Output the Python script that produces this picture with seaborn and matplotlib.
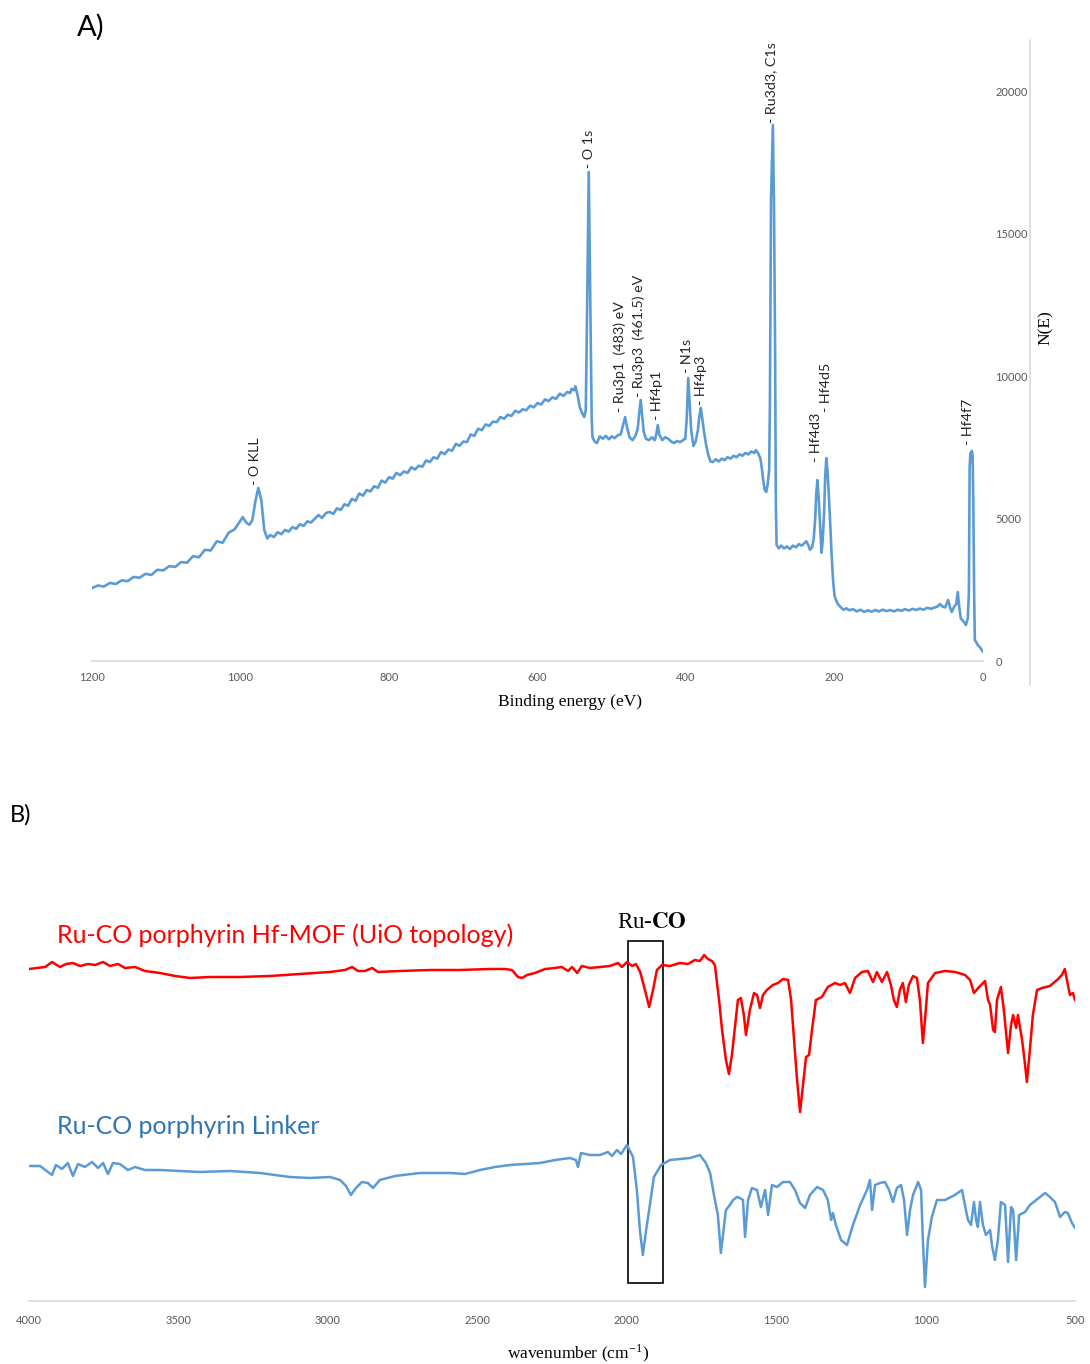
import matplotlib
matplotlib.use("Agg")
import matplotlib.pyplot as plt
from matplotlib.patches import Rectangle
import seaborn as sns
import pandas as pd

# ---------------- Panel A: XPS survey (binding energy eV, counts N(E)) ----------------
xps_be = [1200, 1192, 1184, 1176, 1168, 1160, 1152, 1144, 1136, 1128, 1120, 1112, 1104, 1096, 1088,
          1080, 1072, 1064, 1056, 1048, 1040, 1032, 1024, 1016, 1008, 1002, 997, 992, 988, 984, 980,
          976, 972, 968, 964, 960, 955, 950, 945, 940, 935, 930, 925, 920, 915, 910, 905, 900, 895,
          890, 885, 880, 875, 870, 865, 860, 855, 850, 845, 840, 835, 830, 825, 820, 815, 810, 805,
          800, 795, 790, 785, 780, 775, 770, 765, 760, 755, 750, 745, 740, 735, 730, 725, 720, 715,
          710, 705, 700, 695, 690, 685, 680, 675, 670, 665, 660, 655, 650, 645, 640, 635, 630, 625,
          620, 615, 610, 605, 600, 595, 590, 585, 580, 575, 570, 565, 560, 556, 554, 551, 549, 546,
          543, 540, 537, 535, 533, 531, 529, 527, 526, 523, 520, 516, 512, 508, 504, 500, 496, 492,
          488, 485, 482, 479, 476, 472, 468, 465, 463, 461, 459, 457, 454, 450, 446, 442, 440, 438,
          436, 432, 428, 424, 420, 416, 412, 408, 404, 401, 399, 397, 395, 393, 390, 387, 384, 382,
          380, 378, 376, 373, 370, 367, 364, 360, 356, 352, 348, 344, 340, 336, 332, 328, 324, 320,
          316, 312, 308, 306, 303, 300, 298, 296, 294, 292, 290, 288, 287, 285.5, 283, 281.5, 280,
          279, 278, 275, 272, 268, 264, 260, 256, 252, 248, 244, 240, 238, 235, 233, 230, 228, 226,
          224.5, 223, 221, 219, 217.5, 216, 214, 212.5, 211, 209.5, 208, 206, 204, 202, 200, 198,
          195, 192, 188, 184, 180, 175, 170, 165, 160, 155, 150, 145, 140, 135, 130, 125, 120, 115,
          110, 105, 100, 95, 90, 85, 80, 75, 70, 65, 62, 58, 55, 51, 47, 44, 42, 39, 36, 34, 32, 30,
          28, 25, 23, 20.5, 19, 18, 17, 16, 15, 14, 13, 12, 11, 9, 7, 4, 2, 0]
xps_counts = [2560, 2650, 2610, 2740, 2700, 2830, 2800, 2950, 2920, 3060, 3020, 3200, 3180, 3330, 3300,
              3470, 3450, 3680, 3640, 3900, 3880, 4200, 4150, 4500, 4620, 4850, 5050, 4850, 4780, 4950, 5600,
              6070, 5650, 4600, 4300, 4420, 4350, 4520, 4450, 4600, 4540, 4700, 4640, 4800, 4740, 4900, 4860, 4990, 5120,
              5020, 5190, 5230, 5160, 5360, 5300, 5500, 5450, 5690, 5620, 5880, 5800, 6000, 5950, 6130, 6080, 6330, 6260,
              6450, 6400, 6600, 6520, 6650, 6600, 6800, 6720, 6850, 6820, 7040, 6980, 7150, 7100, 7330, 7260, 7420, 7380,
              7620, 7550, 7700, 7680, 7950, 7900, 8150, 8100, 8300, 8250, 8400, 8380, 8560, 8500, 8640, 8600, 8780, 8720,
              8830, 8800, 8960, 8900, 9050, 9000, 9180, 9120, 9250, 9200, 9380, 9300, 9440, 9400, 9550, 9500, 9640, 9330,
              8900, 8700, 8560, 8800, 12700, 17160, 12700, 8500, 7860, 7700, 7650, 7880, 7800, 7900, 7780, 7880, 7820, 7920,
              7950, 8250, 8560, 8150, 7850, 7750, 7900, 8150, 8700, 9160, 8600, 8050, 7800, 7750, 7850, 7750, 7950, 8280,
              7950, 7750, 7850, 7800, 7700, 7650, 7720, 7680, 7750, 7800, 8500, 9930, 9000, 8100, 7550, 7700, 8100, 8600,
              8880, 8500, 8100, 7600, 7230, 7000, 6980, 7080, 7000, 7100, 7050, 7150, 7100, 7200, 7150, 7250, 7200, 7300,
              7250, 7350, 7300, 7400, 7300, 7120, 6800, 6350, 6000, 5930, 6200, 6700, 9000, 16200, 18808, 16000, 10900,
              5500, 4070, 3950, 4050, 3950, 4020, 3930, 4050, 3990, 4100, 4050, 4150, 4200, 4050, 3900, 4000, 4300, 5000,
              5900, 6350, 5600, 4600, 3800, 4200, 5200, 6500, 7120, 6700, 6000, 4950, 3800, 2850, 2300, 2140,
              1980, 1900, 1800, 1850, 1780, 1820, 1740, 1800, 1720, 1780, 1730, 1790, 1740, 1800, 1750, 1790, 1740, 1800,
              1760, 1820, 1770, 1830, 1790, 1840, 1800, 1870, 1830, 1880, 1900, 2000, 1920, 1880, 2140, 1850, 1720, 1900, 2000, 2420, 1900, 1500,
              1440, 1350, 1260, 1500, 2400, 6800, 7300, 7000, 7370, 7200, 5500, 2500, 740, 650, 560, 480, 400, 316]

peak_names = ["- O KLL", "- O 1s", "- Ru3p1  (483) eV", "- Ru3p3  (461.5) eV", "- Hf4p1", "- N1s",
              "- Hf4p3", "- Ru3d3, C1s", "- Hf4d3", "- Hf4d5", "- Hf4f7"]
peak_be = [980.5, 530.6, 489, 463, 439, 398.6, 380, 285.5, 225, 211.5, 20]
peak_label_y = [6180, 17300, 8740, 9260, 8460, 10100, 8980, 18880, 6980, 8740, 7580]

xps_xticks = [1200, 1000, 800, 600, 400, 200, 0]
xps_yticks = [0, 5000, 10000, 15000, 20000]

# ---------------- Panel B: FTIR (wavenumber cm-1, transmittance a.u.) ----------------
mof_wn = [4000, 3946, 3923, 3896, 3876, 3853, 3829, 3803, 3779, 3752, 3729, 3702, 3679, 3645, 3612, 3562,
          3511, 3461, 3394, 3294, 3194, 3093, 2993, 2943, 2919, 2899, 2876, 2852, 2832, 2759, 2658, 2558,
          2457, 2407, 2384, 2364, 2350, 2334, 2307, 2273, 2240, 2217, 2196, 2183, 2166, 2150, 2123, 2089,
          2056, 2029, 2016, 1999, 1982, 1969, 1955, 1939, 1925, 1912, 1899, 1882, 1855, 1822, 1795, 1772,
          1755, 1741, 1728, 1715, 1705, 1691, 1681, 1668, 1658, 1648, 1638, 1628, 1618, 1608, 1601, 1588,
          1574, 1564, 1554, 1544, 1531, 1511, 1494, 1477, 1460, 1450, 1440, 1430, 1420, 1410, 1400, 1390,
          1380, 1367, 1347, 1327, 1303, 1286, 1270, 1253, 1236, 1213, 1193, 1176, 1163, 1146, 1129, 1116,
          1106, 1096, 1086, 1076, 1066, 1056, 1042, 1029, 1019, 1009, 1002, 992, 968, 935, 901, 868, 851,
          838, 821, 801, 791, 784, 774, 768, 761, 748, 738, 724, 714, 707, 697, 691, 677, 667, 661, 651,
          641, 627, 610, 584, 560, 544, 534, 527, 517, 507, 500]
mof_t = [332, 334, 339, 334, 337, 338, 335, 337, 336, 339, 335, 337, 333, 334, 330, 328,
         325, 323, 324, 324, 325, 327, 329, 331, 334, 330, 330, 333, 329, 330, 331, 331,
         332, 332, 331, 324, 323, 326, 328, 332, 333, 334, 330, 334, 328, 335, 333, 334,
         335, 338, 334, 339, 335, 337, 329, 311, 294, 311, 331, 336, 335, 338, 337, 341,
         340, 346, 342, 340, 336, 301, 271, 241, 227, 246, 274, 301, 303, 286, 266, 291,
         308, 306, 293, 306, 311, 316, 318, 322, 321, 301, 261, 221, 189, 216, 244, 246,
         271, 301, 304, 314, 318, 316, 318, 308, 323, 329, 330, 319, 329, 319, 329, 316,
         301, 294, 311, 318, 299, 316, 325, 323, 301, 258, 281, 318, 328, 330, 329, 326, 321,
         308, 314, 320, 301, 296, 271, 269, 301, 314, 291, 248, 276, 286, 273, 286, 261, 236, 219, 251,
         286, 311, 313, 315, 321, 326, 332, 321, 306, 308, 301]

linker_wn = [4000, 3963, 3923, 3910, 3890, 3870, 3853, 3836, 3813, 3789, 3769, 3752, 3736, 3719, 3696, 3669,
             3645, 3612, 3562, 3495, 3428, 3327, 3227, 3127, 3060, 2993, 2959, 2939, 2923, 2906, 2886, 2866,
             2849, 2826, 2775, 2692, 2591, 2541, 2491, 2441, 2391, 2340, 2290, 2240, 2190, 2170, 2163, 2153,
             2123, 2089, 2063, 2049, 2033, 2019, 1999, 1989, 1979, 1966, 1956, 1946, 1935, 1925, 1909, 1885,
             1855, 1822, 1788, 1755, 1735, 1721, 1708, 1695, 1685, 1668, 1655, 1644, 1631, 1621, 1611, 1604,
             1594, 1581, 1564, 1551, 1537, 1527, 1514, 1497, 1477, 1454, 1437, 1420, 1403, 1387, 1363, 1343,
             1327, 1316, 1310, 1300, 1283, 1263, 1243, 1219, 1196, 1186, 1179, 1169, 1153, 1136, 1122, 1109,
             1096, 1082, 1072, 1062, 1052, 1042, 1025, 1015, 1009, 1002, 992, 979, 962, 935, 902, 878, 865,
             858, 848, 838, 831, 825, 818, 808, 798, 784, 778, 768, 758, 748, 734, 724, 714, 707, 697, 687,
             667, 651, 617, 600, 584, 567, 550, 534, 524, 510, 500]
linker_t = [135, 135, 126, 136, 132, 138, 125, 137, 134, 139, 133, 138, 127, 138, 137, 131,
            134, 131, 131, 130, 129, 130, 128, 124, 123, 124, 121, 115, 106, 113, 119, 118,
            113, 121, 125, 128, 128, 127, 131, 134, 136, 137, 138, 141, 143, 141, 134, 148,
            146, 146, 149, 145, 151, 147, 156, 150, 144, 111, 71, 46, 71, 91, 124, 136,
            141, 142, 143, 146, 138, 128, 106, 86, 48, 91, 96, 101, 104, 103, 101, 64,
            101, 113, 111, 94, 111, 86, 116, 114, 119, 119, 111, 98, 93, 106, 114, 111,
            101, 81, 88, 76, 61, 56, 76, 96, 111, 121, 91, 116, 118, 119, 111, 99,
            113, 116, 101, 66, 91, 106, 119, 111, 61, 14, 61, 84, 101, 101, 106, 111, 91,
            81, 76, 99, 81, 74, 99, 76, 66, 71, 56, 41, 61, 99, 96, 39, 94, 91, 41, 86,
            89, 96, 104, 108, 104, 99, 84, 89, 88, 78, 73]

ir_xticks = [4000, 3500, 3000, 2500, 2000, 1500, 1000, 500]
mof_name = "Ru-CO porphyrin Hf-MOF (UiO topology)"
linker_name = "Ru-CO porphyrin Linker"
mof_label_pos = (3906, 366)
linker_label_pos = (3906, 174)
ruco_box_wn = (1996, 1879)
ruco_box_t = (18, 360)
ruco_text_pos = (1915, 378)

# ---------------- Styling ----------------
sns.set_theme(style="white")
plt.rcParams["font.family"] = ["Lato", "DejaVu Sans"]
plt.rcParams["mathtext.fontset"] = "stix"

W, H = 1090, 1364
fig = plt.figure(figsize=(W / 100, H / 100), dpi=100)
fig.patch.set_facecolor("white")

BLUE = "#5B9BD5"
RED = "#FF0000"
AXIS = "#D9D9D9"
TICKC = "#595959"
SERIF = ["Liberation Serif", "DejaVu Serif"]

# ---- Panel A ----
ax1 = fig.add_axes([92 / W, (H - 661) / H, (983 - 92) / W, (661 - 40) / H])
dfa = pd.DataFrame({"be": xps_be, "n": xps_counts})
sns.lineplot(data=dfa, x="be", y="n", ax=ax1, color=BLUE, lw=1.9, estimator=None, sort=False)
ax1.set_xlim(1200, 0)
ax1.set_ylim(0, 21790)
ax1.set_xticks(xps_xticks)
ax1.set_yticks(xps_yticks)
ax1.yaxis.tick_right()
ax1.tick_params(axis="both", length=0, labelsize=8, labelcolor=TICKC)
ax1.tick_params(axis="x", pad=8)
ax1.tick_params(axis="y", pad=9)
ax1.set_xlabel("")
ax1.set_ylabel("")
for s in ["top", "left", "right"]:
    ax1.spines[s].set_visible(False)
ax1.spines["bottom"].set_color(AXIS)
ax1.spines["bottom"].set_linewidth(1.2)
ax1.axvline(-63.3, ymin=-0.0386, ymax=1.0, color=AXIS, lw=1.2, clip_on=False)
ax1.grid(False)

for name, be, yv in zip(peak_names, peak_be, peak_label_y):
    ax1.text(be, yv, name, rotation=90, ha="center", va="bottom", fontsize=10.3, color="#262626")

fig.text(570 / W, 1 - 702 / H, "Binding energy (eV)", ha="center", va="center",
         family=SERIF, fontsize=12.5, color="black")
fig.text(1046 / W, 1 - 328 / H, "N(E)", ha="center", va="center", rotation=90,
         family=SERIF, fontsize=12.5, color="black")
fig.text(91 / W, 1 - 27 / H, "A)", ha="center", va="center", fontsize=21, color="black")

# ---- Panel B ----
ax2 = fig.add_axes([29 / W, (H - 1301) / H, (1075 - 29) / W, 401 / H])
dfm = pd.DataFrame({"wn": mof_wn, "t": mof_t})
dfl = pd.DataFrame({"wn": linker_wn, "t": linker_t})
sns.lineplot(data=dfm, x="wn", y="t", ax=ax2, color=RED, lw=1.8, estimator=None, sort=False)
sns.lineplot(data=dfl, x="wn", y="t", ax=ax2, color=BLUE, lw=1.8, estimator=None, sort=False)
ax2.set_xlim(4000, 500)
ax2.set_ylim(0, 401)
ax2.set_xticks(ir_xticks)
ax2.set_yticks([])
ax2.tick_params(axis="x", length=0, labelsize=8, labelcolor=TICKC, pad=10)
ax2.set_xlabel("")
ax2.set_ylabel("")
for s in ["top", "left", "right"]:
    ax2.spines[s].set_visible(False)
ax2.spines["bottom"].set_color(AXIS)
ax2.spines["bottom"].set_linewidth(1.2)
ax2.grid(False)

ax2.add_patch(Rectangle((ruco_box_wn[0], ruco_box_t[0]), ruco_box_wn[1] - ruco_box_wn[0],
                        ruco_box_t[1] - ruco_box_t[0], fill=False, ec="black", lw=1.2))
ax2.text(ruco_text_pos[0], ruco_text_pos[1], r"Ru-$\mathbf{CO}$", ha="center", va="center",
         family=SERIF, fontsize=16.5, color="black")
ax2.text(mof_label_pos[0], mof_label_pos[1], mof_name, ha="left", va="center",
         fontsize=18, color=RED)
ax2.text(linker_label_pos[0], linker_label_pos[1], linker_name, ha="left", va="center",
         fontsize=18, color="#2E75B6")

fig.text(578 / W, 1 - 1353 / H, r"wavenumber (cm$^{\mathregular{-1}}$)", ha="center", va="center",
         family=SERIF, fontsize=12.5, color="black")
fig.text(21 / W, 1 - 815 / H, "B)", ha="center", va="center", fontsize=17, color="black")

fig.savefig("out.png", dpi=100, facecolor="white")
